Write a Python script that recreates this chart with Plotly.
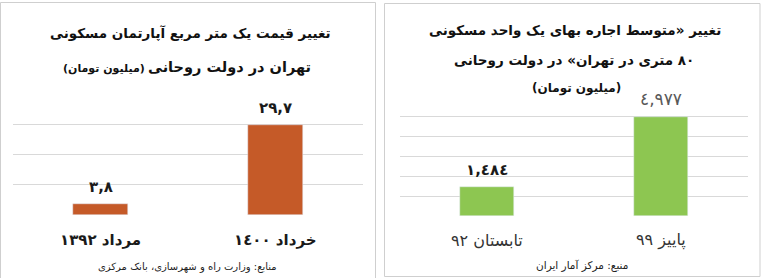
import plotly.graph_objects as go

W, H = 761, 278
RLM = "\u200f"

def rtl(s):
    return RLM + s + RLM

AR_DIGITS = str.maketrans("0123456789.", "٠١٢٣٤٥٦٧٨٩,")

def fa_num(v, fmt):
    return (fmt.format(v)).translate(AR_DIGITS)

# Left chart: price per square metre (million toman)
left_categories = ["مرداد ١٣٩٢", "خرداد ١٤٠٠"]
left_values = [3.8, 29.7]
left_ticks = [0, 10, 20, 30, 40]

# Right chart: average rent of an 80 m2 unit (million toman)
right_categories = ["تابستان ٩٢", "پاییز ٩٩"]
right_values = [1484, 4977]
right_ticks = [0, 1000, 2000, 3000, 4000, 5000, 6000]

ORANGE = "#C55A28"
GREEN = "#8DC651"
GRID = "#D9D9D9"
FONT = "DejaVu Sans"

def px(x):
    return x / W

def py(y):
    return 1 - y / H

fig = go.Figure()
fig.add_trace(go.Bar(x=left_categories, y=left_values, marker_color=ORANGE,
                     width=0.315, xaxis="x", yaxis="y", hoverinfo="skip"))
fig.add_trace(go.Bar(x=right_categories, y=right_values, marker_color=GREEN,
                     width=0.316, xaxis="x2", yaxis="y2", hoverinfo="skip"))

axis_common = dict(showgrid=False, zeroline=False, showticklabels=False, showline=False, fixedrange=True)
fig.update_layout(
    width=W, height=H, margin=dict(l=0, r=0, t=0, b=0),
    paper_bgcolor="white", plot_bgcolor="white", showlegend=False,
    xaxis=dict(domain=[px(13), px(363)], range=[-0.5, 1.5], **axis_common),
    yaxis=dict(domain=[py(215), py(94)], range=[0, 40], tickvals=left_ticks,
               showgrid=True, gridcolor=GRID, gridwidth=1, zeroline=False,
               showticklabels=False, fixedrange=True),
    xaxis2=dict(domain=[px(400), px(748)], range=[-0.5, 1.5], **axis_common),
    yaxis2=dict(domain=[py(216), py(97)], range=[0, 6000], tickvals=right_ticks,
                showgrid=True, gridcolor=GRID, gridwidth=1, zeroline=False,
                showticklabels=False, fixedrange=True),
    bargap=0,
)

anns = []
# value labels
for c, v in zip(left_categories, left_values):
    anns.append(dict(x=c, y=v, xref="x", yref="y", text="<b>" + fa_num(v, "{:.1f}") + "</b>",
                     showarrow=False, yanchor="bottom", yshift=6,
                     font=dict(family=FONT, size=15, color="#1a1a1a")))
r_colors = ["#1a1a1a", "#595959"]
r_bold = [True, False]
for c, v, col, b in zip(right_categories, right_values, r_colors, r_bold):
    t = fa_num(v, "{:,}")
    anns.append(dict(x=c, y=v, xref="x2", yref="y2", text=("<b>" + t + "</b>") if b else t,
                     showarrow=False, yanchor="bottom", yshift=6,
                     font=dict(family=FONT, size=15 if b else 17, color=col)))
# category labels
for c in left_categories:
    anns.append(dict(x=c, y=0, xref="x", yref="y", text="<b>" + rtl(c) + "</b>",
                     showarrow=False, yanchor="middle", yshift=-25,
                     font=dict(family=FONT, size=15, color="#1a1a1a")))
for c in right_categories:
    anns.append(dict(x=c, y=0, xref="x2", yref="y2", text=rtl(c),
                     showarrow=False, yanchor="middle", yshift=-24,
                     font=dict(family=FONT, size=16, color="#333333")))

# titles
def paper_text(x, y, s, size, bold=True, color="#111111"):
    anns.append(dict(x=px(x), y=py(y), xref="paper", yref="paper", showarrow=False,
                     xanchor="center", yanchor="middle",
                     text=("<b>" + rtl(s) + "</b>") if bold else rtl(s),
                     font=dict(family=FONT, size=size, color=color)))

paper_text(190, 33, "تغییر قیمت یک متر مربع آپارتمان مسکونی", 13.5)
paper_text(229, 67, "تهران در دولت روحانی", 14.5)
paper_text(104, 68, "(میلیون تومان)", 11)
paper_text(575, 30, "تغییر «متوسط اجاره بهای یک واحد مسکونی", 13.5)
paper_text(574, 60, "٨٠ متری در تهران» در دولت روحانی", 13.5)
paper_text(576, 88, "(میلیون تومان)", 12)
# sources
paper_text(187, 267, "منابع: وزارت راه و شهرسازی، بانک مرکزی", 10, bold=False, color="#222222")
paper_text(582, 265, "منبع: مرکز آمار ایران", 10.5, bold=False, color="#222222")
fig.update_layout(annotations=anns)

# panel borders
BORDER = "#CFCFCF"
fig.add_shape(type="rect", xref="paper", yref="paper", x0=px(0.5), x1=px(375.5), y0=py(278.5), y1=py(2.5),
              line=dict(color=BORDER, width=1))
fig.add_shape(type="rect", xref="paper", yref="paper", x0=px(384.5), x1=px(760), y0=py(276.5), y1=py(3.5),
              line=dict(color=BORDER, width=1))

fig.write_html("out.html")
